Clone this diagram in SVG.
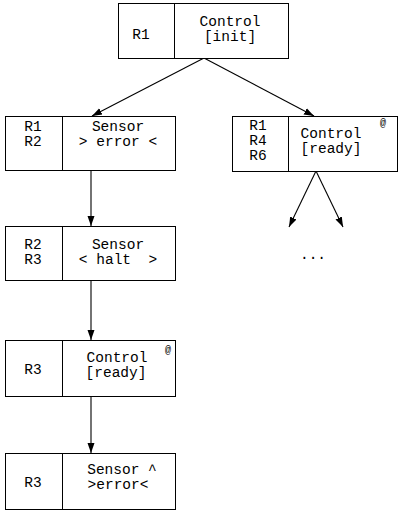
<svg xmlns="http://www.w3.org/2000/svg" width="398" height="512" viewBox="0 0 398 512">
<style>
rect{fill:#fff;stroke:#000;stroke-width:1}
.d{stroke:#000;stroke-width:1}
text{font-family:"Liberation Mono","DejaVu Sans Mono",monospace;font-size:14.5px;fill:#000;text-anchor:middle;white-space:pre}
.at{font-size:10px}
.e{stroke:#000;stroke-width:1.1;fill:none;marker-end:url(#ah)}
</style>
<defs>
<marker id="ah" viewBox="0 0 10 10" refX="10" refY="5" markerWidth="10" markerHeight="10" markerUnits="userSpaceOnUse" orient="auto">
<path d="M0,1.5 L10,5 L0,8.5 Z" fill="#000"/>
</marker>
</defs>
<g id="connectors">
<line class="e" x1="204" y1="58" x2="92" y2="116"/>
<line class="e" x1="204" y1="58" x2="314" y2="116"/>
<line class="e" x1="91" y1="170" x2="91" y2="226"/>
<line class="e" x1="91" y1="280" x2="91" y2="340"/>
<line class="e" x1="91" y1="396" x2="91" y2="453"/>
<line class="e" x1="316" y1="171" x2="289" y2="227"/>
<line class="e" x1="316" y1="171" x2="343" y2="227"/>
</g>
<g id="n0">
<rect x="118.5" y="3.5" width="170" height="55"/>
<line class="d" x1="174.5" y1="3.5" x2="174.5" y2="58.5"/>
<text x="141" y="39">R1</text>
<text x="230" y="26">Control</text>
<text x="230" y="41">[init]</text>
</g>
<g id="n1">
<rect x="5.5" y="116.5" width="170" height="54"/>
<line class="d" x1="62.5" y1="116.5" x2="62.5" y2="170.5"/>
<text x="33" y="131">R1</text>
<text x="33" y="146">R2</text>
<text x="118" y="131">Sensor</text>
<text x="118" y="146">&gt; error &lt;</text>
</g>
<g id="n2">
<rect x="232.5" y="116.5" width="165" height="55"/>
<line class="d" x1="288.5" y1="116.5" x2="288.5" y2="171.5"/>
<text x="258" y="130">R1</text>
<text x="258" y="145">R4</text>
<text x="258" y="160">R6</text>
<text x="331" y="138">Control</text>
<text x="331" y="153">[ready]</text>
<text class="at" x="383" y="126">@</text>
</g>
<g id="n3">
<rect x="5.5" y="226.5" width="170" height="54"/>
<line class="d" x1="62.5" y1="226.5" x2="62.5" y2="280.5"/>
<text x="33" y="249">R2</text>
<text x="33" y="264">R3</text>
<text x="118" y="249">Sensor</text>
<text x="118" y="264">&lt; halt  &gt;</text>
</g>
<g id="n4">
<rect x="5.5" y="340.5" width="170" height="56"/>
<line class="d" x1="62.5" y1="340.5" x2="62.5" y2="396.5"/>
<text x="33" y="374">R3</text>
<text x="117" y="362">Control</text>
<text x="116" y="377">[ready]</text>
<text class="at" x="168" y="353">@</text>
</g>
<g id="n5">
<rect x="5.5" y="453.5" width="170" height="56"/>
<line class="d" x1="62.5" y1="453.5" x2="62.5" y2="509.5"/>
<text x="33" y="487">R3</text>
<text x="122" y="474">Sensor ^</text>
<text x="118" y="489">&gt;error&lt;</text>
</g>
<text x="313" y="259">...</text>
</svg>
